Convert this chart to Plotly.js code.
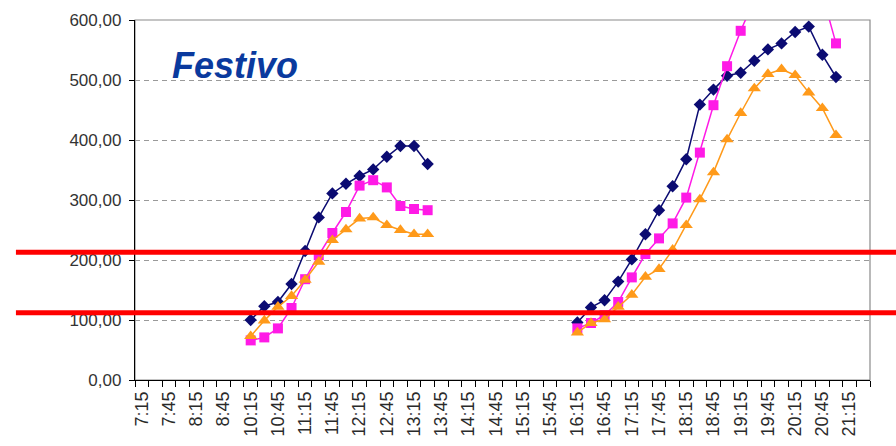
<!DOCTYPE html>
<html>
<head>
<meta charset="utf-8">
<script src="https://cdn.plot.ly/plotly-3.0.1.min.js"></script>
<style>html,body{margin:0;padding:0;background:#fff;}#chart{width:896px;height:446px;}</style>
</head>
<body>
<div id="chart"></div>
<script>
// Category axis (15-minute slots; the slot between 8:45 and 10:15 is unlabelled)
const categories = ['7:15','7:30','7:45','8:00','8:15','8:30','8:45','10:00',
  '10:15','10:30','10:45','11:00','11:15','11:30','11:45','12:00','12:15','12:30','12:45',
  '13:00','13:15','13:30','13:45','14:00','14:15','14:30','14:45','15:00','15:15','15:30',
  '15:45','16:00','16:15','16:30','16:45','17:00','17:15','17:30','17:45','18:00','18:15',
  '18:30','18:45','19:00','19:15','19:30','19:45','20:00','20:15','20:30','20:45','21:00',
  '21:15','21:30'];

// Morning block
const timesAM = ['10:15','10:30','10:45','11:00','11:15','11:30','11:45','12:00','12:15',
  '12:30','12:45','13:00','13:15','13:30'];
const blueAM    = [100,123,130,160,215,271,311,327,340,351,372,390,390,360];
const magentaAM = [66,71,86,120,168,208,245,280,324,333,321,290,285,283];
const orangeAM  = [73,99,122,140,167,197,233,251,269,271,258,250,243,243];

// Afternoon / evening block
const timesPM = ['16:15','16:30','16:45','17:00','17:15','17:30','17:45','18:00','18:15',
  '18:30','18:45','19:00','19:15','19:30','19:45','20:00','20:15','20:30','20:45','21:00'];
const bluePM    = [96,121,133,164,201,243,283,323,368,459,484,507,512,532,551,561,580,589,542,505];
const magentaPM = [86,95,108,130,171,210,236,261,304,379,458,523,582,634,660,675,675,660,643,561];
const orangePM  = [79,95,101,122,142,172,185,217,258,301,346,401,445,486,510,518,508,479,453,408];

// Reference lines drawn over the chart
const refLines = [213, 112];

const yTicks = [0,100,200,300,400,500,600];

const series = [
  {name:'Serie 1', color:'#0b0b72', symbol:'diamond', size:9.5, am: blueAM,    pm: bluePM},
  {name:'Serie 2', color:'#ff1ae6', symbol:'square',  size:10,  am: magentaAM, pm: magentaPM},
  {name:'Serie 3', color:'#ff9a1a', symbol:'triangle-up', size:11.5, am: orangeAM, pm: orangePM}
];

const traces = [];
series.forEach(s => {
  [[timesAM, s.am],[timesPM, s.pm]].forEach(([xs, ys]) => {
    traces.push({
      type:'scatter', mode:'lines+markers', x: xs, y: ys, name: s.name,
      showlegend:false, cliponaxis:true,
      line:{color:s.color, width:1.5},
      marker:{symbol:s.symbol, size:s.size, color:s.color, line:{width:0}}
    });
  });
});

const shapes = [
  {type:'rect', xref:'paper', yref:'paper', x0:0, x1:1, y0:0, y1:1,
   line:{color:'#8a8a8a', width:1.2}, layer:'below'}
];
refLines.forEach(v => shapes.push({
  type:'line', xref:'paper', yref:'y', x0:-0.162, x1:1.04, y0:v, y1:v,
  line:{color:'#ff0000', width:5}, layer:'above'
}));

const layout = {
  width:896, height:446,
  margin:{l:135, r:26, t:20, b:66, autoexpand:false},
  paper_bgcolor:'#ffffff', plot_bgcolor:'#ffffff',
  separators:',.',
  showlegend:false,
  font:{family:'Arial, Liberation Sans, sans-serif', color:'#222', size:17},
  xaxis:{
    type:'category', categoryorder:'array', categoryarray:categories,
    range:[-0.5, categories.length-0.5],
    tickmode:'array', tickvals:categories,
    ticktext:categories.map((c,i)=> i%2===0 ? c : ''),
    tickson:'boundaries',
    tickangle:-90, ticks:'outside', ticklen:6, tickcolor:'#000', tickwidth:1,
    showline:true, linecolor:'#000', linewidth:1.2,
    showgrid:false, zeroline:false, ticklabelstandoff:3,
    tickfont:{size:18, color:'#2a2a2a'}
  },
  yaxis:{
    range:[0,600], tickmode:'array', tickvals:yTicks, tickformat:'.2f',
    ticks:'outside', ticklen:5, tickcolor:'#000', tickwidth:1,
    showline:true, linecolor:'#000', linewidth:1.2,
    showgrid:true, gridcolor:'#9a9a9a', gridwidth:1, griddash:'5px,4px',
    zeroline:false, ticklabelstandoff:4,
    tickfont:{size:17, color:'#333'}
  },
  shapes: shapes,
  annotations:[{
    text:'<b><i>Festivo</i></b>', xref:'paper', yref:'paper',
    x:0.136, y:0.875, xanchor:'center', yanchor:'middle', showarrow:false,
    font:{family:'Arial, Liberation Sans, sans-serif', size:36, color:'#0a3a9e'}
  }]
};

Plotly.newPlot('chart', traces, layout, {staticPlot:true, displayModeBar:false});
</script>
</body>
</html>
